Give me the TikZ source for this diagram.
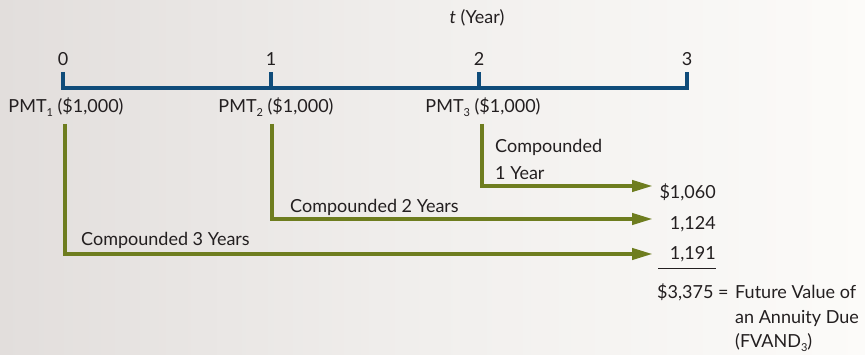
\documentclass[tikz,border=0pt]{standalone}
\usepackage{fontspec}
\setmainfont{Lato}
\usetikzlibrary{arrows.meta}
\definecolor{axisblue}{HTML}{0F4C7A}
\definecolor{olive}{HTML}{6E7D1F}
\definecolor{ink}{HTML}{231F20}
\definecolor{bgleft}{HTML}{E2DEDC}
\definecolor{bgmid}{HTML}{F1EFED}
\definecolor{bgright}{HTML}{FCFBF9}
\newcommand{\lowsub}[1]{\raisebox{-0.45ex}{\fontsize{11}{11}\selectfont #1}}
\tikzset{
  lbl/.style={text=ink, font=\fontsize{18}{21}\selectfont, inner sep=0pt},
  axisline/.style={draw=axisblue, line width=4.5pt, line join=miter},
  flow/.style={draw=olive, line width=4pt, line join=miter,
    -{Triangle[length=21pt,width=11pt]}},
  sumrule/.style={draw=ink, line width=0.8pt},
}
\begin{document}
\begin{tikzpicture}[x=1pt,y=-1pt]
  % canvas and soft left-to-right background
  \useasboundingbox (0,0) rectangle (865,355);
  \shade[left color=bgleft, right color=bgright, middle color=bgmid] (0,0) rectangle (865,355);

  % time axis
  \node[lbl] (taxis) at (477,18) {\textit{t} (Year)};
  \coordinate (k0) at (63,88);
  \coordinate (k1) at (271,88);
  \coordinate (k2) at (479,88);
  \coordinate (k3) at (687,88);
  \draw[axisline] (63,72) -- (k0) -- (k3) -- (687,72);
  \draw[axisline] (k1) -- (271,72);
  \draw[axisline] (k2) -- (479,72);
  \node[lbl] (n0) at (63,59) {0};
  \node[lbl] (n1) at (271,59) {1};
  \node[lbl] (n2) at (479,59) {2};
  \node[lbl] (n3) at (687,59) {3};

  % payments
  \node[lbl] (p1) at (66,107) {PMT\lowsub{1} (\$1,000)};
  \node[lbl] (p2) at (276,107) {PMT\lowsub{2} (\$1,000)};
  \node[lbl] (p3) at (483,107) {PMT\lowsub{3} (\$1,000)};

  % compounded values
  \node[lbl, anchor=east] (v1) at (716,192) {\$1,060};
  \node[lbl, anchor=east] (v2) at (716,224) {1,124};
  \node[lbl, anchor=east] (v3) at (716,254) {1,191};
  \draw[sumrule] (658,268) -- (716,268);

  % compounding paths
  \coordinate (s1) at (65,124);
  \coordinate (s2) at (272,124);
  \coordinate (s3) at (482,124);
  \coordinate (e1) at (653,186);
  \coordinate (e2) at (653,219);
  \coordinate (e3) at (653,254);
  \draw[flow] (s3) |- (e1);
  \draw[flow] (s2) |- (e2);
  \draw[flow] (s1) |- (e3);
  \node[lbl, anchor=west] (c1a) at (495,147) {Compounded};
  \node[lbl, anchor=west] (c1b) at (495,173) {1 Year};
  \node[lbl, anchor=west] (c2) at (290,207) {Compounded 2 Years};
  \node[lbl, anchor=west] (c3) at (81,240) {Compounded 3 Years};

  % total
  \node[lbl, anchor=west] (tot) at (657,292) {\$3,375 =};
  \node[lbl, anchor=west] (fv1) at (735,292) {Future Value of};
  \node[lbl, anchor=west] (fv2) at (735,318) {an Annuity Due};
  \node[lbl, anchor=west] (fv3) at (735,343) {(FVAND\lowsub{3})};
\end{tikzpicture}
\end{document}
